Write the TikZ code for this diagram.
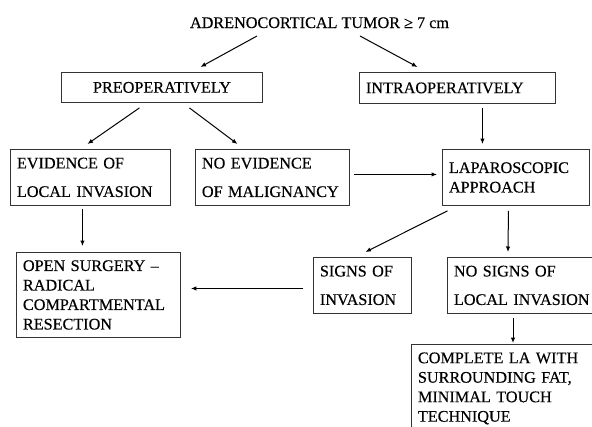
\documentclass[tikz,border=0pt]{standalone}
\usepackage{fontspec}
\setmainfont[FakeBold=0.35]{Liberation Serif}
\usetikzlibrary{arrows.meta}
\begin{document}
\begin{tikzpicture}[x=1pt,y=-1pt,
  txt/.style={font=\fontsize{16.2}{19.5}\selectfont},
  box/.style={txt, draw=black!80, line width=0.9pt, anchor=north west, inner xsep=6.5pt, inner ysep=0pt, align=left},
  arr/.style={-{Latex[length=5.5pt,width=4.5pt]}, line width=1pt}]
\useasboundingbox (0,0) rectangle (592,426);
\clip (0,0) rectangle (592,426);
\node[txt, inner sep=0pt, anchor=base] (title) at (319.5,28) {ADRENOCORTICAL TUMOR ≥ 7 cm};
\node[box, align=center, text width=188pt, minimum width=201pt, minimum height=30pt] (pre) at (61,72) {PREOPERATIVELY};
\node[box, text width=183pt, minimum width=196pt, minimum height=31pt] (intra) at (359,72) {INTRAOPERATIVELY};
\node[box, text width=147pt, minimum width=160pt, minimum height=56pt] (evid) at (10,149) {EVIDENCE OF\\[9pt]LOCAL INVASION};
\node[box, text width=141pt, minimum width=154pt, minimum height=56pt] (noev) at (195,149) {NO EVIDENCE\\[9pt]OF MALIGNANCY};
\node[box, text width=134pt, minimum width=147pt, minimum height=56pt] (lap) at (442,149) {LAPAROSCOPIC\\APPROACH};
\node[box, text width=151pt, minimum width=164pt, minimum height=85pt] (open) at (16,252) {OPEN SURGERY --\\RADICAL\\COMPARTMENTAL\\RESECTION};
\node[box, text width=85pt, minimum width=98pt, minimum height=56pt] (signs) at (313,257) {SIGNS OF\\[9pt]INVASION};
\node[box, text width=140pt, minimum width=153pt, minimum height=56pt] (nosigns) at (447,257) {NO SIGNS OF\\[9pt]\mbox{LOCAL INVASION}};
\node[box, inner ysep=8pt, text width=187pt, minimum width=200pt] (complete) at (411,344) {COMPLETE LA WITH\\SURROUNDING FAT,\\MINIMAL TOUCH\\TECHNIQUE};
\draw[arr] ([xshift=-62.5pt,yshift=-8pt]title.base) -- ([xshift=38.5pt,yshift=5pt]pre.north);
\draw[arr] ([xshift=40.5pt,yshift=-8pt]title.base) -- ([xshift=-40pt,yshift=5pt]intra.north);
\draw[arr] ([xshift=-22.5pt,yshift=-5pt]pre.south) -- ([xshift=-3pt,yshift=5pt]evid.north);
\draw[arr] ([xshift=27.5pt,yshift=-5pt]pre.south) -- ([xshift=-35pt,yshift=5pt]noev.north);
\draw[arr] ([xshift=25pt,yshift=-4pt]intra.south) -- ([xshift=-33.5pt,yshift=5pt]lap.north);
\draw[arr] ([xshift=4pt,yshift=3pt]noev.east) -- ([xshift=-5pt,yshift=3pt]lap.west);
\draw[arr] ([xshift=-8pt,yshift=-3pt]evid.south) -- ([xshift=-16pt,yshift=6pt]open.north);
\draw[arr] ([xshift=-68.5pt,yshift=-5pt]lap.south) -- ([xshift=3pt,yshift=5pt]signs.north);
\draw[arr] ([xshift=-7.5pt,yshift=-5pt]lap.south) -- ([xshift=61pt,yshift=5pt]nosigns.north west);
\draw[arr] ([xshift=-10pt,yshift=-3pt]signs.west) -- ([xshift=10pt,yshift=6.5pt]open.east);
\draw[arr] ([xshift=66pt,yshift=-4pt]nosigns.south west) -- ([xshift=102pt,yshift=1pt]complete.north west);
\end{tikzpicture}
\end{document}
